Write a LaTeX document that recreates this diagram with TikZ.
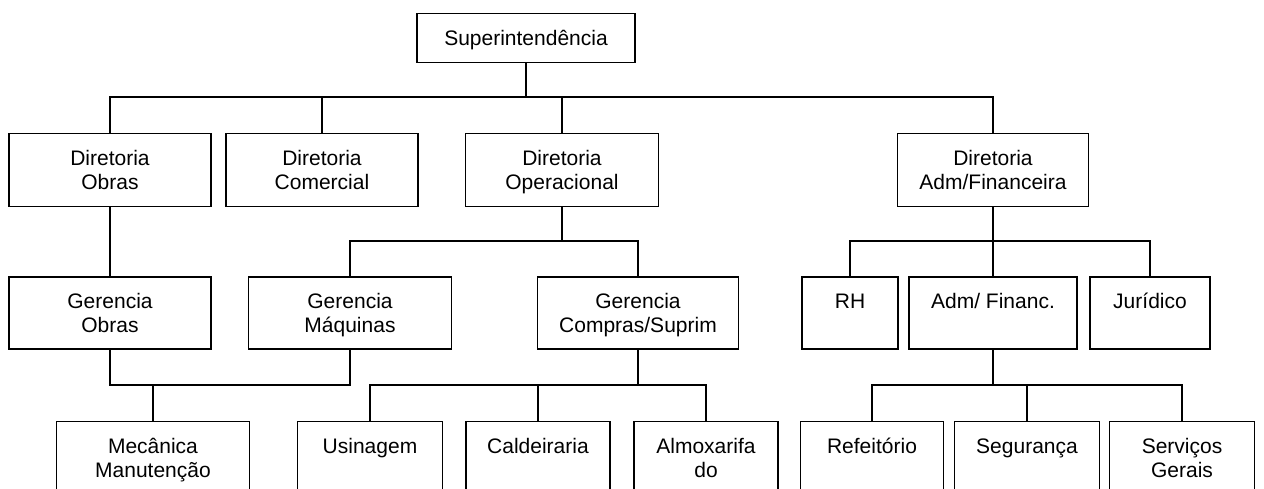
\documentclass[tikz,border=0pt]{standalone}
\usepackage{fontspec}
\setmainfont{Liberation Sans}
% line strut and two text lines of fixed height, so every box sets its text alike
\newcommand{\linestrut}{\rule[-5pt]{0pt}{24pt}}
\newcommand{\twolines}[2]{\linestrut#1\\\linestrut#2}
\begin{document}
\begin{tikzpicture}[x=1pt,y=-1pt,
  unit/.style={draw, line width=1.8pt, fill=white, inner sep=0pt, align=center,
    font=\fontsize{21}{24}\selectfont},
  wh/.style 2 args={minimum width=#1pt, minimum height=#2pt},
  link/.style={line width=1.8pt}]
\useasboundingbox (0,0) rectangle (1264,488);
\fill[white] (0,0) rectangle (1264,488);
\clip (0,0) rectangle (1264,488);

% top
\node[unit, wh={218}{49}] (sup) at (526,38) {\linestrut Superintendência};

% directorates
\node[unit, wh={202}{73}] (dob) at (110,170) {\twolines{Diretoria}{Obras}};
\node[unit, wh={192}{73}] (dco) at (322,170) {\twolines{Diretoria}{Comercial}};
\node[unit, wh={193}{73}] (dop) at (562,170) {\twolines{Diretoria}{Operacional}};
\node[unit, wh={191}{73}] (dad) at (993,170) {\twolines{Diretoria}{Adm/Financeira}};

% managements
\node[unit, wh={202}{72}] (gob) at (110,313) {\twolines{Gerencia}{Obras}};
\node[unit, wh={203}{72}] (gma) at (350,313) {\twolines{Gerencia}{Máquinas}};
\node[unit, wh={201}{72}] (gco) at (638,313) {\twolines{Gerencia}{Compras/Suprim}};
\node[unit, wh={96}{72}]  (rh)  at (850,313) {\twolines{RH}{}};
\node[unit, wh={168}{72}] (adf) at (993,313) {\twolines{Adm/ Financ.}{}};
\node[unit, wh={120}{72}] (jur) at (1150,313) {\twolines{Jurídico}{}};

% sections
\node[unit, wh={193}{73}] (mec) at (153,458) {\twolines{Mecânica}{Manutenção}};
\node[unit, wh={145}{73}] (usi) at (370,458) {\twolines{Usinagem}{}};
\node[unit, wh={144}{73}] (cal) at (538,458) {\twolines{Caldeiraria}{}};
\node[unit, wh={144}{73}] (alm) at (706,458) {\twolines{Almoxarifa}{do}};
\node[unit, wh={143}{73}] (ref) at (872,458) {\twolines{Refeitório}{}};
\node[unit, wh={145}{73}] (seg) at (1027,458) {\twolines{Segurança}{}};
\node[unit, wh={145}{73}] (ser) at (1182,458) {\twolines{Serviços}{Gerais}};

% bus junctions
\coordinate (b1) at (526,97);
\coordinate (b2) at (562,241);
\coordinate (b4) at (993,241);
\coordinate (j)  at (153,385);
\coordinate (b3) at (638,385);
\coordinate (b5) at (993,385);

% connectors
\draw[link] (sup.south) -- (b1);
\foreach \n in {dob,dco,dop,dad} \draw[link] (b1) -| (\n.north);

\draw[link] (dob.south) -- (gob.north);

\draw[link] (dop.south) -- (b2);
\foreach \n in {gma,gco} \draw[link] (b2) -| (\n.north);

\draw[link] (dad.south) -- (b4);
\foreach \n in {rh,adf,jur} \draw[link] (b4) -| (\n.north);

\draw[link] (gob.south) |- (j);
\draw[link] (gma.south) |- (j);
\draw[link] (j) -- (mec.north);

\draw[link] (gco.south) -- (b3);
\foreach \n in {usi,cal,alm} \draw[link] (b3) -| (\n.north);

\draw[link] (adf.south) -- (b5);
\foreach \n in {ref,seg,ser} \draw[link] (b5) -| (\n.north);
\end{tikzpicture}
\end{document}
